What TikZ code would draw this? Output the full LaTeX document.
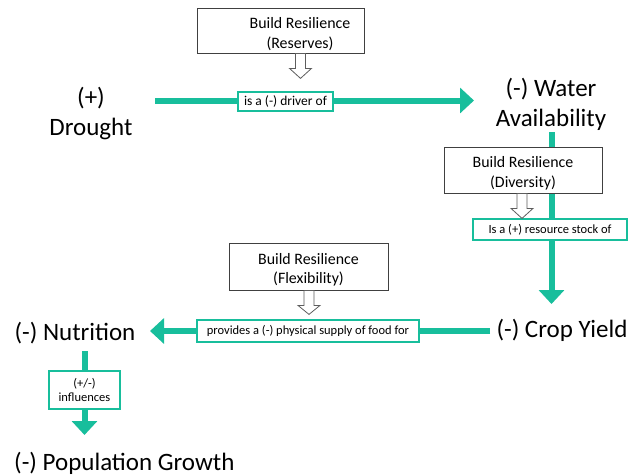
\documentclass[tikz,border=0pt]{standalone}
\usepackage{fontspec}
\setmainfont{Carlito}
\usetikzlibrary{arrows.meta}
\definecolor{teal1}{RGB}{24,190,156}
\definecolor{boxgray}{RGB}{64,64,64}
\newcommand\tallstrut{\rule{0pt}{18pt}}
\begin{document}
\begin{tikzpicture}[x=1pt,y=-1pt,
  big/.style={font=\fontsize{25}{30}\selectfont, align=center, inner sep=0pt},
  resbox/.style={draw=boxgray, line width=0.8pt, fill=white, font=\fontsize{15.9}{19.5}\selectfont, align=center, inner sep=0pt},
  lab/.style={draw=teal1, line width=1.8pt, fill=white, font=\fontsize{12.5}{14.5}\selectfont, align=center, inner sep=0pt},
  flow/.style={draw=teal1, line width=6pt, -{Triangle[width=25pt,length=14pt]}},
  hollow/.style={draw=boxgray!85, line width=0.8pt, fill=white},
]
\useasboundingbox (0,0) rectangle (639,475);

% concept nodes
\node[big] (drought) at (91,113.5) {(+)\\Drought};
\node[big] (water) at (551,104) {(-) Water\\Availability};
\node[big] (crop) at (562,330) {(-) Crop Yield};
\node[big] (nutrition) at (75,333) {(-) Nutrition};
\node[big, anchor=west] (pop) at (14,463) {(-) Population Growth};

% connector end points
\coordinate (a1) at (155,100.5);
\coordinate (a2) at (474,100.5);
\coordinate (b1) at (551.5,132);
\coordinate (b2) at (551.5,304);
\coordinate (c1) at (490,331);
\coordinate (c2) at (150,331);
\coordinate (d1) at (84.5,351);
\coordinate (d2) at (84.5,435);

\draw[flow] (a1) -- (a2);
\draw[flow] (b1) -- (b2);
\draw[flow] (c1) -- (c2);
\draw[flow] (d1) -- (d2);

% connector labels
\node[lab, font=\fontsize{13.5}{15}\selectfont, minimum width=95pt, minimum height=19pt] (driver) at (285.5,101.5) {is a (-) driver of};
\node[lab, minimum width=154pt, minimum height=21pt] (stock) at (550,229.5) {Is a (+) resource stock of};
\node[lab, minimum width=222pt, minimum height=22pt] (supply) at (308,331) {provides a (-) physical supply of food for};
\node[lab, minimum width=71pt, minimum height=38pt] (infl) at (84.5,390) {(+/-)\\influences};

% resilience boxes
\node[resbox, minimum width=167pt, minimum height=45pt] (reserves) at (280.5,30.5)
  {\tallstrut\hspace*{39pt}Build Resilience\\\hspace*{39pt}(Reserves)};
\node[resbox, minimum width=158pt, minimum height=46pt] (diversity) at (523,170) {\tallstrut Build Resilience\\(Diversity)};
\node[resbox, minimum width=159pt, minimum height=47pt] (flexibility) at (308.5,266.5) {\tallstrut Build Resilience\\(Flexibility)};

% hollow arrows
\draw[hollow] ([xshift=20pt]reserves.south) ++(-5,0) -- ++(0,15) -- ++(-6,0) -- ++(11,10) -- ++(11,-10) -- ++(-6,0) -- ++(0,-15) -- cycle;
\draw[hollow] ([xshift=-1pt]diversity.south) ++(-5,0) -- ++(0,15) -- ++(-6,0) -- ++(11,10) -- ++(11,-10) -- ++(-6,0) -- ++(0,-15) -- cycle;
\draw[hollow] ([xshift=0.5pt]flexibility.south) ++(-5,0) -- ++(0,15) -- ++(-6,0) -- ++(11,9) -- ++(11,-9) -- ++(-6,0) -- ++(0,-15) -- cycle;
\end{tikzpicture}
\end{document}
